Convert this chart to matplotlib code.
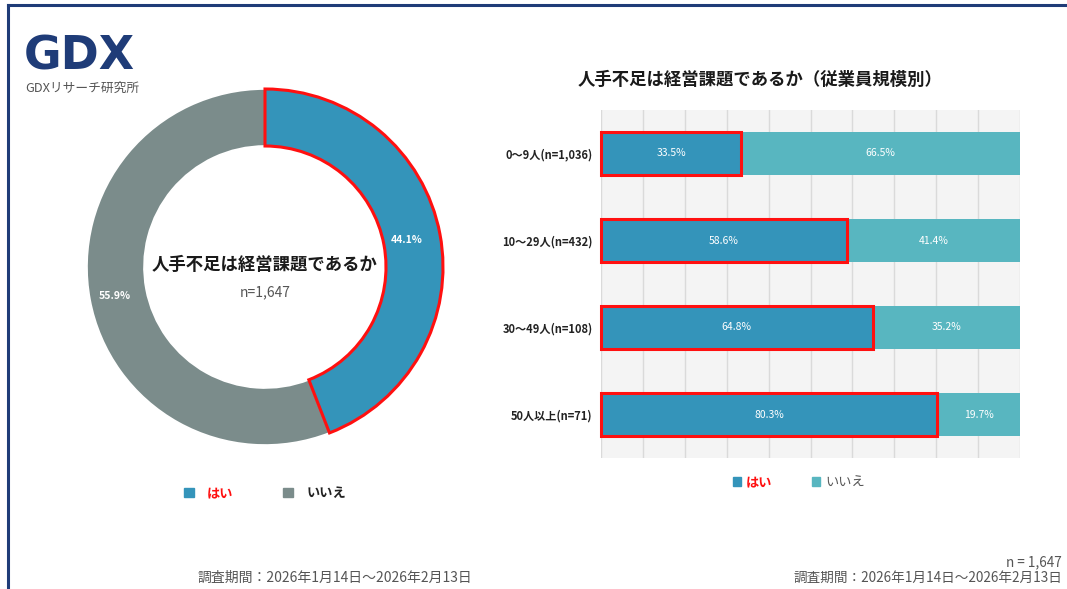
#!/usr/bin/env python3
import matplotlib
matplotlib.use("Agg")
import matplotlib.pyplot as plt
from matplotlib.patches import Patch, Rectangle
from matplotlib.lines import Line2D

plt.rcParams["font.family"] = ["Noto Sans CJK JP", "DejaVu Sans"]

# data
pie_labels = ["はい", "いいえ"]
pie_values = [44.1, 55.9]
total_n = "n=1,647"

sizes = ["0～9人(n=1,036)", "10～29人(n=432)", "30～49人(n=108)", "50人以上(n=71)"]
yes_pct = [33.5, 58.6, 64.8, 80.3]
no_pct = [66.5, 41.4, 35.2, 19.7]

period = "調査期間：2026年1月14日～2026年2月13日"

BLUE = "#3494BA"
TEAL = "#58B6C0"
GRAY = "#7B8C8B"
NAVY = "#1F3C78"

W, H = 1067, 589
fig = plt.figure(figsize=(W / 100, H / 100), dpi=100)


def px(x0, y_top, w, h):
    # pixel box (top-left origin) -> figure fraction rect
    return [x0 / W, (H - y_top - h) / H, w / W, h / H]


# frame lines (top + left)
fig.add_artist(Line2D([8 / W, 1], [1 - 5 / H, 1 - 5 / H], color=NAVY, lw=2.2))
fig.add_artist(Line2D([8 / W, 8 / W], [0, 1 - 5 / H], color=NAVY, lw=2.2))

# logo
fig.text(24 / W, 1 - 70 / H, "GDX", family="DejaVu Sans",
         fontsize=33, fontweight="bold", color=NAVY, ha="left", va="baseline")
fig.text(25 / W, 1 - 88 / H, "GDXリサーチ研究所", fontsize=9.2, color="#555555",
         ha="left", va="center")

# -----------------------------
# donut
# -----------------------------
ax = fig.add_axes(px(65, 67, 400, 400))
wedges, _ = ax.pie(
    pie_values,
    colors=[BLUE, GRAY],
    startangle=90,
    counterclock=False,
    radius=0.89,
    wedgeprops=dict(width=0.285, edgecolor="white", linewidth=1.2),
)
wedges[0].set_edgecolor("#FF1010")
wedges[0].set_linewidth(2.2)
wedges[0].set_zorder(3)
ax.set_xlim(-1, 1)
ax.set_ylim(-1, 1)
ax.set_aspect("equal")
ax.axis("off")

ax.text(0.71, 0.135, f"{pie_values[0]}%", color="white", fontsize=7.5,
        fontweight="bold", ha="center", va="center")
ax.text(-0.75, -0.145, f"{pie_values[1]}%", color="white", fontsize=7.5,
        fontweight="bold", ha="center", va="center")
ax.text(0, 0.01, "人手不足は経営課題であるか", fontsize=12.5, fontweight="bold",
        color="#1a1a1a", ha="center", va="center")
ax.text(0, -0.125, total_n, fontsize=10, color="#555555", ha="center", va="center")

leg = fig.legend(
    [Patch(color=BLUE), Patch(color=GRAY)], pie_labels,
    loc="center", bbox_to_anchor=(265 / W, 1 - 493 / H), ncol=2, frameon=False,
    handlelength=0.75, handleheight=0.75, handletextpad=1.0, columnspacing=3.8,
    prop=dict(size=9.5, weight="bold"),
)
leg.get_texts()[0].set_color("#FF1010")
leg.get_texts()[1].set_color("#222222")

# -----------------------------
# stacked bars
# -----------------------------
bx = fig.add_axes(px(601, 110, 419, 348))
bx.set_facecolor("#F4F4F4")
y = list(range(len(sizes)))
bx.barh(y, yes_pct, height=0.5, color=BLUE, zorder=2)
bx.barh(y, no_pct, left=yes_pct, height=0.5, color=TEAL, zorder=2)
for i in y:
    bx.add_patch(Rectangle((0, i - 0.25), yes_pct[i], 0.5, fill=False,
                           edgecolor="#FF1010", lw=2.2, zorder=4, clip_on=False))
    bx.text(yes_pct[i] / 2, i, f"{yes_pct[i]}%", color="white", fontsize=7.5,
            ha="center", va="center", zorder=5)
    bx.text(yes_pct[i] + no_pct[i] / 2, i, f"{no_pct[i]}%", color="white",
            fontsize=7.5, ha="center", va="center", zorder=5)

bx.set_xlim(0, 100)
bx.set_ylim(3.5, -0.5)
bx.set_xticks(range(0, 101, 10))
bx.set_xticklabels([])
bx.grid(axis="x", color="#DADADA", lw=1, zorder=1)
bx.set_axisbelow(True)
bx.set_yticks(y)
bx.set_yticklabels(sizes, fontsize=8, fontweight="bold", color="#222222")
bx.tick_params(length=0, pad=6)
for s in bx.spines.values():
    s.set_visible(False)

fig.text(760 / W, 1 - 80 / H, "人手不足は経営課題であるか（従業員規模別）",
         fontsize=12.5, fontweight="bold", color="#1a1a1a", ha="center", va="center")

leg2 = fig.legend(
    [Patch(color=BLUE), Patch(color=TEAL)], pie_labels,
    loc="center", bbox_to_anchor=(799 / W, 1 - 482 / H), ncol=2, frameon=False,
    handlelength=0.6, handleheight=0.6, handletextpad=0.4, columnspacing=3.0,
    prop=dict(size=9.5),
)
leg2.get_texts()[0].set_color("#FF1010")
leg2.get_texts()[0].set_fontweight("bold")
leg2.get_texts()[1].set_color("#555555")

# footers
fig.text(335 / W, 1 - 578 / H, period, fontsize=10, color="#555555",
         ha="center", va="center")
fig.text(1062 / W, 1 - 562 / H, total_n.replace("=", " = "), fontsize=9.8,
         color="#555555", ha="right", va="center")
fig.text(1062 / W, 1 - 578 / H, period, fontsize=9.8, color="#555555",
         ha="right", va="center")

fig.savefig("out.png", dpi=100, facecolor="white")
